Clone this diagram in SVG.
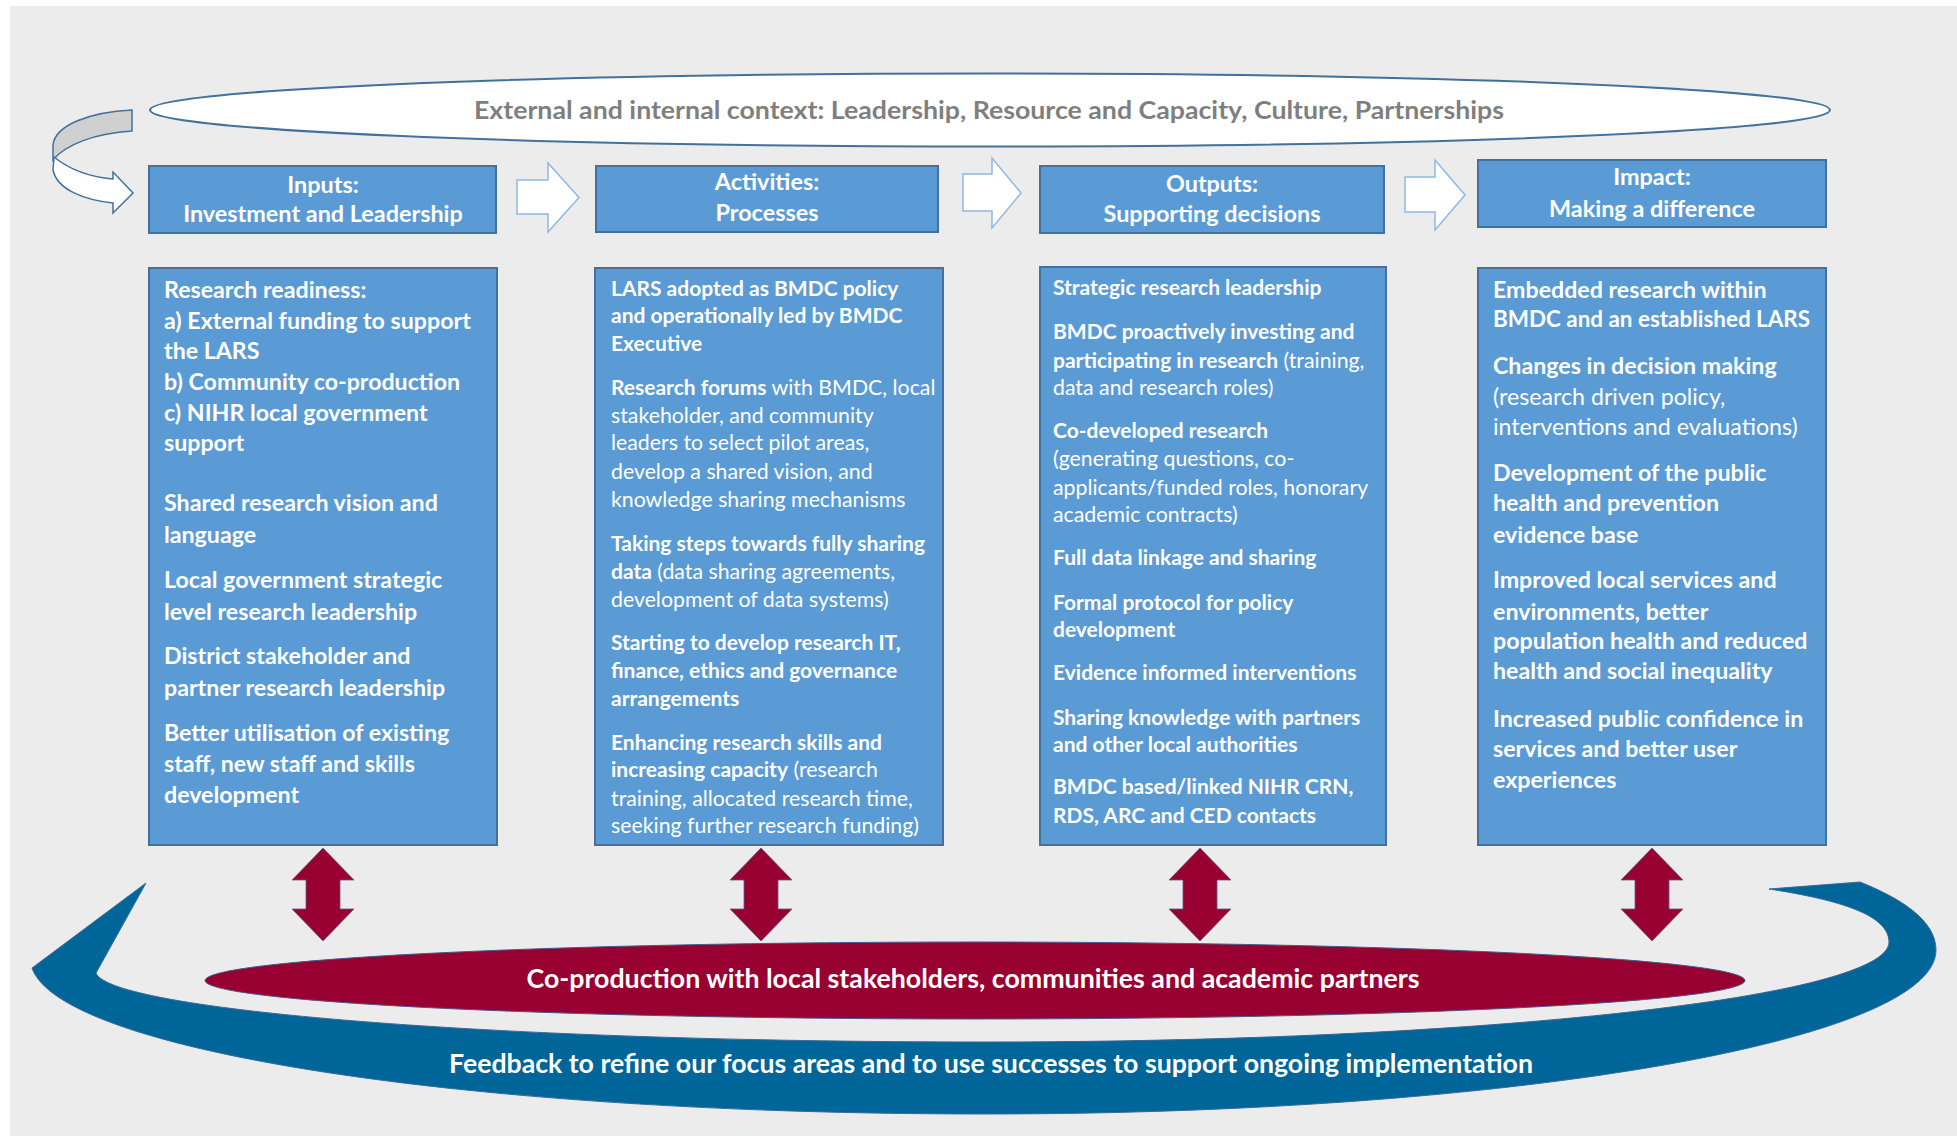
<svg xmlns="http://www.w3.org/2000/svg" width="1957" height="1136" viewBox="0 0 1957 1136">
  <defs>
    <style>
      .bg { fill: #ececec; }
      .box { fill: #5b9bd5; stroke: #41719c; stroke-width: 2; }
      .hdr { font-family: Lato, "Liberation Sans", sans-serif; font-weight: 700; font-size: 23.4px; fill: #ffffff; text-anchor: middle; }
      .ctx { font-family: Lato, "Liberation Sans", sans-serif; font-weight: 700; font-size: 24px; fill: #7f7f7f; text-anchor: middle; }
      .t14 { font-family: Lato, "Liberation Sans", sans-serif; font-weight: 700; font-size: 23.2px; fill: #ffffff; }
      .t23 { font-family: Lato, "Liberation Sans", sans-serif; font-size: 21px; fill: #ffffff; }
      .b { font-weight: 700; }
      .r { font-weight: 400; font-size: 21.3px; }
      .t14 .r { font-size: 23.2px; }
      .flow { fill: #ffffff; stroke: #8fb8e0; stroke-width: 1.5; }
      .dbl { fill: #970031; stroke: #5f5a8a; stroke-width: 0.8; }
      .band { font-family: Lato, "Liberation Sans", sans-serif; font-weight: 700; font-size: 26.4px; fill: #ffffff; text-anchor: middle; }
    </style>
    <path id="dblArrow" d="M0,848 L31,880 L17,880 L17,909 L31,909 L0,941 L-31,909 L-17,909 L-17,880 L-31,880 Z"/>
  </defs>

  <!-- page background -->
  <rect x="0" y="0" width="1957" height="1136" fill="#ffffff"/>
  <rect class="bg" x="10" y="6" width="1947" height="1130"/>

  <!-- context ellipse -->
  <g id="context">
    <ellipse cx="990" cy="110" rx="840" ry="36.5" fill="#ffffff" stroke="#41719c" stroke-width="2"/>
    <text class="ctx" x="989" y="119" textLength="1030" lengthAdjust="spacingAndGlyphs">External and internal context: Leadership, Resource and Capacity, Culture, Partnerships</text>
  </g>

  <!-- ribbon arrow looping from context into inputs -->
  <g id="loop-arrow" stroke="#41719c" stroke-width="1.5">
    <path d="M132,110 C90,112 55,125 53,145 L53,160 C65,145 95,133 132,131 Z" fill="#d0d0d0"/>
    <path d="M54,157 C70,170 90,177 113,179 L113,172 L133,193 L113,213 L113,203 C85,200 57,190 53,170 Z" fill="#ffffff"/>
  </g>

  <!-- column headers -->
  <g id="hdr-inputs">
    <rect class="box" x="149" y="166" width="347" height="67"/>
    <text class="hdr" x="323" y="193">Inputs:</text>
    <text class="hdr" x="323" y="222">Investment and Leadership</text>
  </g>
  <g id="hdr-activities">
    <rect class="box" x="596" y="166" width="342" height="66"/>
    <text class="hdr" x="767" y="190">Activities:</text>
    <text class="hdr" x="767" y="221">Processes</text>
  </g>
  <g id="hdr-outputs">
    <rect class="box" x="1040" y="166" width="344" height="67"/>
    <text class="hdr" x="1212" y="192">Outputs:</text>
    <text class="hdr" x="1212" y="222">Supporting decisions</text>
  </g>
  <g id="hdr-impact">
    <rect class="box" x="1478" y="160" width="348" height="67"/>
    <text class="hdr" x="1652" y="185">Impact:</text>
    <text class="hdr" x="1652" y="217">Making a difference</text>
  </g>

  <!-- column contents -->
  <g id="box-inputs">
    <rect class="box" x="149" y="268" width="348" height="577"/>
    <text class="t14">
      <tspan x="164" y="298">Research readiness:</tspan>
      <tspan x="164" y="329">a) External funding to support</tspan>
      <tspan x="164" y="359">the LARS</tspan>
      <tspan x="164" y="390">b) Community co-production</tspan>
      <tspan x="164" y="421">c) NIHR local government</tspan>
      <tspan x="164" y="451">support</tspan>
      <tspan x="164" y="511">Shared research vision and</tspan>
      <tspan x="164" y="543">language</tspan>
      <tspan x="164" y="588">Local government strategic</tspan>
      <tspan x="164" y="620">level research leadership</tspan>
      <tspan x="164" y="664">District stakeholder and</tspan>
      <tspan x="164" y="696">partner research leadership</tspan>
      <tspan x="164" y="741">Better utilisation of existing</tspan>
      <tspan x="164" y="772">staff, new staff and skills</tspan>
      <tspan x="164" y="803">development</tspan>
    </text>
  </g>

  <g id="box-activities">
    <rect class="box" x="595" y="268" width="348" height="577"/>
    <text class="t23">
      <tspan class="b" x="611" y="296">LARS adopted as BMDC policy</tspan>
      <tspan class="b" x="611" y="323">and operationally led by BMDC</tspan>
      <tspan class="b" x="611" y="351">Executive</tspan>
      <tspan class="b" x="611" y="395">Research forums</tspan><tspan class="r"> with BMDC, local</tspan>
      <tspan class="r" x="611" y="423">stakeholder, and community</tspan>
      <tspan class="r" x="611" y="450">leaders to select pilot areas,</tspan>
      <tspan class="r" x="611" y="479">develop a shared vision, and</tspan>
      <tspan class="r" x="611" y="507">knowledge sharing mechanisms</tspan>
      <tspan class="b" x="611" y="551">Taking steps towards fully sharing</tspan>
      <tspan class="b" x="611" y="579">data</tspan><tspan class="r"> (data sharing agreements,</tspan>
      <tspan class="r" x="611" y="607">development of data systems)</tspan>
      <tspan class="b" x="611" y="650">Starting to develop research IT,</tspan>
      <tspan class="b" x="611" y="678">finance, ethics and governance</tspan>
      <tspan class="b" x="611" y="706">arrangements</tspan>
      <tspan class="b" x="611" y="750">Enhancing research skills and</tspan>
      <tspan class="b" x="611" y="777">increasing capacity</tspan><tspan class="r"> (research</tspan>
      <tspan class="r" x="611" y="806">training, allocated research time,</tspan>
      <tspan class="r" x="611" y="833">seeking further research funding)</tspan>
    </text>
  </g>

  <g id="box-outputs">
    <rect class="box" x="1040" y="267" width="346" height="578"/>
    <text class="t23">
      <tspan class="b" x="1053" y="295">Strategic research leadership</tspan>
      <tspan class="b" x="1053" y="339">BMDC proactively investing and</tspan>
      <tspan class="b" x="1053" y="368">participating in research</tspan><tspan class="r"> (training,</tspan>
      <tspan class="r" x="1053" y="395">data and research roles)</tspan>
      <tspan class="b" x="1053" y="438">Co-developed research</tspan>
      <tspan class="r" x="1053" y="466">(generating questions, co-</tspan>
      <tspan class="r" x="1053" y="495">applicants/funded roles, honorary</tspan>
      <tspan class="r" x="1053" y="522">academic contracts)</tspan>
      <tspan class="b" x="1053" y="565">Full data linkage and sharing</tspan>
      <tspan class="b" x="1053" y="610">Formal protocol for policy</tspan>
      <tspan class="b" x="1053" y="637">development</tspan>
      <tspan class="b" x="1053" y="680">Evidence informed interventions</tspan>
      <tspan class="b" x="1053" y="725">Sharing knowledge with partners</tspan>
      <tspan class="b" x="1053" y="752">and other local authorities</tspan>
      <tspan class="b" x="1053" y="794">BMDC based/linked NIHR CRN,</tspan>
      <tspan class="b" x="1053" y="823">RDS, ARC and CED contacts</tspan>
    </text>
  </g>

  <g id="box-impact">
    <rect class="box" x="1478" y="268" width="348" height="577"/>
    <text class="t14">
      <tspan x="1493" y="298">Embedded research within</tspan>
      <tspan x="1493" y="327" textLength="317" lengthAdjust="spacingAndGlyphs">BMDC and an established LARS</tspan>
      <tspan x="1493" y="374">Changes in decision making</tspan>
      <tspan class="r" x="1493" y="405">(research driven policy,</tspan>
      <tspan class="r" x="1493" y="435">interventions and evaluations)</tspan>
      <tspan x="1493" y="481">Development of the public</tspan>
      <tspan x="1493" y="511">health and prevention</tspan>
      <tspan x="1493" y="543">evidence base</tspan>
      <tspan x="1493" y="588">Improved local services and</tspan>
      <tspan x="1493" y="620">environments, better</tspan>
      <tspan x="1493" y="649">population health and reduced</tspan>
      <tspan x="1493" y="679">health and social inequality</tspan>
      <tspan x="1493" y="727">Increased public confidence in</tspan>
      <tspan x="1493" y="757">services and better user</tspan>
      <tspan x="1493" y="788">experiences</tspan>
    </text>
  </g>

  <!-- feedback loop band -->
  <g id="feedback">
    <path d="M1860,882 C1900,898 1936,920 1936,950 C1936,1041 1510,1114 985,1114 C460,1114 60,1050 32,968 L146,883 L96,973 C110,1010 490,1042 985,1042 C1484,1042 1889,997 1889,942 C1889,915 1840,900 1769,889 Z" fill="#006599" stroke="#3a6a96" stroke-width="1"/>
    <text class="band" x="991" y="1073" textLength="1084" lengthAdjust="spacingAndGlyphs">Feedback to refine our focus areas and to use successes to support ongoing implementation</text>
  </g>

  <!-- co-production ellipse -->
  <g id="coproduction">
    <ellipse cx="975" cy="980.5" rx="770" ry="38.5" fill="#970031" stroke="#4a5a8a" stroke-width="1"/>
    <text class="band" x="973" y="988" textLength="893" lengthAdjust="spacingAndGlyphs">Co-production with local stakeholders, communities and academic partners</text>
  </g>

  <!-- connectors: flow arrows between columns and two-way links to co-production -->
  <g id="connectors">
    <path class="flow" d="M517,180 L548,180 L548,163 L579,197.5 L548,232 L548,214 L517,214 Z"/>
    <path class="flow" d="M963,174 L992,174 L992,158 L1021,193 L992,228 L992,211 L963,211 Z"/>
    <path class="flow" d="M1405,177 L1435,177 L1435,160 L1465,195 L1435,230 L1435,212 L1405,212 Z"/>
    <use href="#dblArrow" class="dbl" x="323"/>
    <use href="#dblArrow" class="dbl" x="761"/>
    <use href="#dblArrow" class="dbl" x="1200"/>
    <use href="#dblArrow" class="dbl" x="1652"/>
  </g>
</svg>
